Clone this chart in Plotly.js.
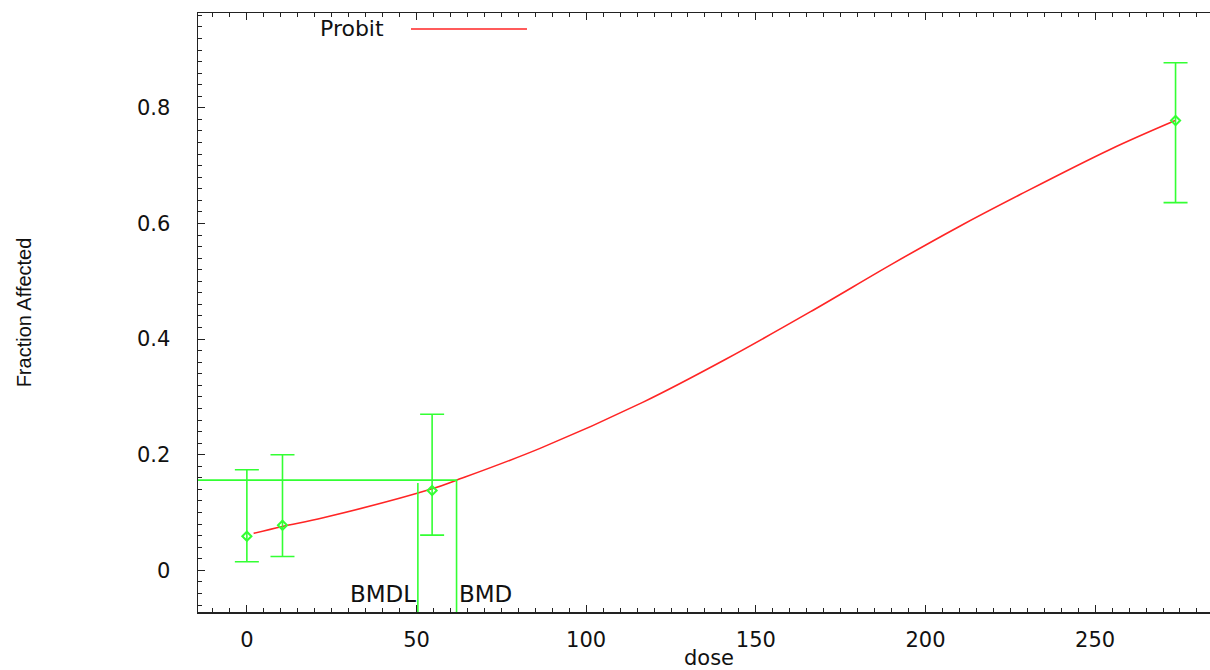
<!DOCTYPE html>
<html>
<head>
<meta charset="utf-8">
<script src="https://cdn.plot.ly/plotly-3.0.1.min.js"></script>
<style>
html, body { margin: 0; padding: 0; overflow: hidden; background: #fff; }
#chart { width: 1230px; height: 670px; }
</style>
</head>
<body>
<div id="chart"></div>
<script>
// Observed data (dose groups)
const doses = [0, 10.5, 54.6, 273.7];
const fractionAffected = [0.059, 0.078, 0.138, 0.778];
const ciUpper = [0.174, 0.2, 0.27, 0.878];
const ciLower = [0.015, 0.024, 0.061, 0.636];

// Probit model fit
const curveDose = [2, 10.5, 22.5, 54.6, 61.8, 86.4, 116.8, 141.4, 166, 190.5, 209.7, 227.9, 254.4, 273.6];
const curveFrac = [0.064, 0.076, 0.091, 0.141, 0.156, 0.211, 0.291, 0.366, 0.447, 0.531, 0.594, 0.650, 0.728, 0.778];

// Benchmark dose values
const bmd = 61.8;
const bmdl = 50.4;
const bmrResponse = 0.156;
const bmdlTop = 0.151;

// Axis settings
const xRange = [-14.4, 286.8];
const yRange = [-0.072, 0.964];
const xTicks = [0, 50, 100, 150, 200, 250];
const yTicks = [0, 0.2, 0.4, 0.6, 0.8];
const yTickText = ['0', '0.2', '0.4', '0.6', '0.8'];

const green = '#33ff33';
const red = '#ff2525';

const errPlus = fractionAffected.map((v, i) => ciUpper[i] - v);
const errMinus = fractionAffected.map((v, i) => v - ciLower[i]);

const traces = [
  {
    x: curveDose, y: curveFrac, type: 'scatter', mode: 'lines',
    line: { color: red, width: 1.6, shape: 'spline', smoothing: 1 },
    name: 'Probit', showlegend: false, hoverinfo: 'skip'
  },
  {
    x: doses, y: fractionAffected, type: 'scatter', mode: 'markers',
    marker: { symbol: 'diamond-open', size: 7, color: green, line: { color: green, width: 2 } },
    error_y: { type: 'data', symmetric: false, array: errPlus, arrayminus: errMinus,
               color: green, thickness: 1.6, width: 12 },
    showlegend: false
  },
  {
    x: [xRange[0], bmd, bmd], y: [bmrResponse, bmrResponse, yRange[0]],
    type: 'scatter', mode: 'lines', line: { color: green, width: 1.6 },
    showlegend: false, hoverinfo: 'skip'
  },
  {
    x: [bmdl, bmdl], y: [bmdlTop, yRange[0]],
    type: 'scatter', mode: 'lines', line: { color: green, width: 1.6 },
    showlegend: false, hoverinfo: 'skip'
  }
];

const tickFont = { family: 'DejaVu Sans, Arial, sans-serif', size: 21, color: '#111' };
const labelFont = { family: 'DejaVu Sans, Arial, sans-serif', size: 22, color: '#111' };

const layout = {
  width: 1230, height: 670,
  margin: { l: 198, r: 10, t: 13, b: 58 },
  paper_bgcolor: '#fff', plot_bgcolor: '#fff',
  showlegend: false,
  xaxis: {
    range: xRange, tickvals: xTicks, ticktext: xTicks.map(String),
    showgrid: false, zeroline: false,
    showline: true, linecolor: '#222', linewidth: 1.5, mirror: 'ticks',
    ticks: 'inside', ticklen: 7, tickwidth: 1.2, tickcolor: '#222',
    minor: { dtick: 5, ticks: 'inside', ticklen: 4, tickwidth: 1, tickcolor: '#222', showgrid: false },
    tickfont: tickFont, ticklabelstandoff: 8,
    title: { text: 'dose', font: { family: 'DejaVu Sans, Arial, sans-serif', size: 21, color: '#111' }, standoff: 10 },
    automargin: false
  },
  yaxis: {
    range: yRange, tickvals: yTicks, ticktext: yTickText,
    showgrid: false, zeroline: false,
    showline: true, linecolor: '#222', linewidth: 1.5, mirror: 'ticks',
    ticks: 'inside', ticklen: 7, tickwidth: 1.2, tickcolor: '#222',
    minor: { dtick: 0.02, ticks: 'inside', ticklen: 4, tickwidth: 1, tickcolor: '#222', showgrid: false },
    tickfont: tickFont, ticklabelstandoff: 22,
    title: { text: 'Fraction Affected', font: { family: 'Liberation Sans, Arial, sans-serif', size: 20, color: '#111' }, standoff: 100 },
    automargin: false
  },
  shapes: [
    { type: 'line', xref: 'paper', yref: 'paper', x0: 0.2084, x1: 0.3219, y0: 0.9733, y1: 0.9733,
      line: { color: red, width: 1.6 } }
  ],
  annotations: [
    { xref: 'paper', yref: 'paper', x: 0.184, y: 0.9733, xanchor: 'right', yanchor: 'middle',
      text: 'Probit', showarrow: false, font: labelFont },
    { x: bmdl, y: -0.040, xref: 'x', yref: 'y', xanchor: 'right', yanchor: 'middle',
      text: 'BMDL', showarrow: false, font: { family: 'DejaVu Sans, Arial, sans-serif', size: 23, color: '#111' } },
    { x: bmd, y: -0.040, xref: 'x', yref: 'y', xanchor: 'left', yanchor: 'middle',
      text: 'BMD', showarrow: false, font: { family: 'DejaVu Sans, Arial, sans-serif', size: 23, color: '#111' } }
  ]
};

Plotly.newPlot('chart', traces, layout, { displayModeBar: false, staticPlot: true });
</script>
</body>
</html>
